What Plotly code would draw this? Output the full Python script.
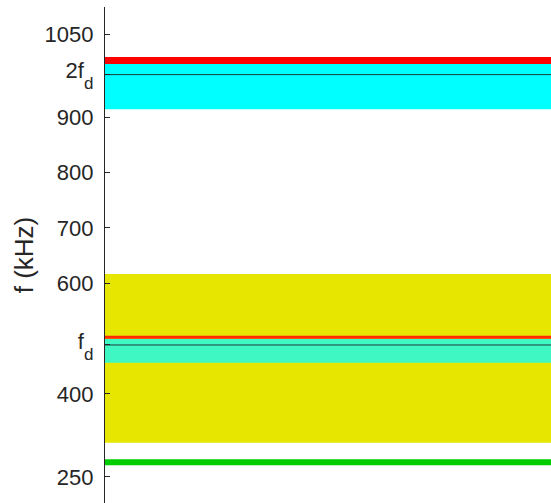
import plotly.graph_objects as go

# ---- data (kHz) ----
f_d = 488.5
two_f_d = 977.0

band_names = ["yellow", "teal", "green", "cyan", "red_top"]
band_low = [312.0, 456.6, 271.2, 914.4, 996.2]
band_high = [616.8, 499.4, 282.0, 996.2, 1008.8]
band_colors = ["#e6e600", "#3ff7c3", "#00cc00", "#00ffff", "#ff0000"]

red_line_value = 502.5
ref_lines = [f_d, two_f_d]

SUB_STYLE = "font-size:17px;baseline-shift:-11px"
MAIN_STYLE = "baseline-shift:4px"
tick_values = [250, 400, f_d, 600, 700, 800, 900, two_f_d, 1050]
tick_labels = ["250", "400",
               f"<span style='{MAIN_STYLE}'>f<span style='{SUB_STYLE}'>d</span></span>",
               "600", "700", "800", "900",
               f"<span style='{MAIN_STYLE}'>2f<span style='{SUB_STYLE}'>d</span></span>",
               "1050"]

y_range = [203.0, 1099.2]

fig = go.Figure()

shapes = []
for lo, hi, col in zip(band_low, band_high, band_colors):
    shapes.append(dict(type="rect", xref="paper", yref="y", x0=0, x1=1,
                       y0=lo, y1=hi, fillcolor=col, line=dict(width=0),
                       layer="below"))
shapes.append(dict(type="line", xref="paper", yref="y", x0=0, x1=1,
                   y0=red_line_value, y1=red_line_value,
                   line=dict(color="#ff2a00", width=2.8), layer="below"))
for v in ref_lines:
    shapes.append(dict(type="line", xref="paper", yref="y", x0=0, x1=1,
                       y0=v, y1=v, line=dict(color="#1f3a3a", width=1),
                       layer="below"))

# invisible trace to establish axes
fig.add_trace(go.Scatter(x=[0, 1], y=y_range, mode="markers",
                         marker=dict(opacity=0), showlegend=False,
                         hoverinfo="skip"))

font_family = "Liberation Sans, Arial, Helvetica, sans-serif"
fig.update_layout(
    width=551, height=503, autosize=False,
    margin=dict(l=105, r=0, t=7, b=0, pad=0),
    paper_bgcolor="white", plot_bgcolor="white",
    shapes=shapes,
    font=dict(family=font_family, color="#262626", size=22),
    showlegend=False,
    xaxis=dict(range=[0, 1], visible=False, fixedrange=True),
    yaxis=dict(
        range=y_range,
        tickmode="array", tickvals=tick_values, ticktext=tick_labels,
        ticks="inside", ticklen=5, tickwidth=1.2, tickcolor="#262626",
        showline=True, linecolor="#262626", linewidth=1.3,
        showgrid=False, zeroline=False,
        tickfont=dict(size=22, color="#262626", family=font_family),
        ticklabelstandoff=6,
        title=dict(text="f (kHz)", font=dict(size=26, color="#262626",
                                             family=font_family),
                   standoff=3),
    ),
)

fig.write_html("out.html", config={"displayModeBar": False},
               post_script="document.body.style.margin='0';"
                           "document.body.style.padding='0';"
                           "document.body.style.overflow='hidden';")
